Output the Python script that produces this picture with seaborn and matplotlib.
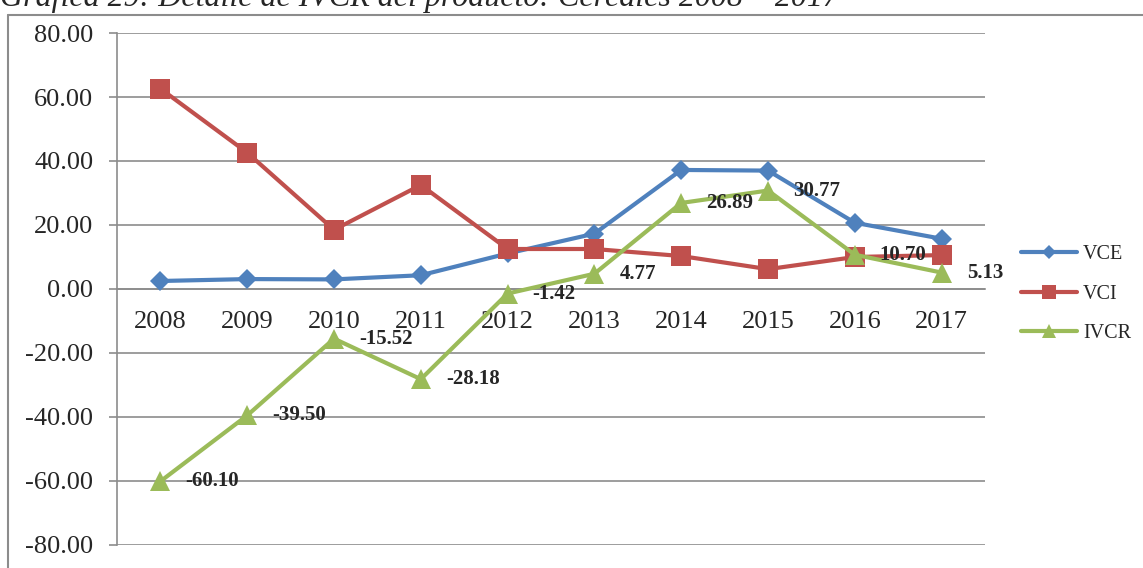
import matplotlib
matplotlib.use("Agg")
import matplotlib.pyplot as plt
from matplotlib.lines import Line2D
import pandas as pd
import seaborn as sns

# values
years = ["2008", "2009", "2010", "2011", "2012", "2013", "2014", "2015", "2016", "2017"]
vce = [2.5, 3.1, 3.0, 4.3, 11.1, 17.3, 37.2, 37.0, 20.7, 15.7]
vci = [62.6, 42.6, 18.5, 32.5, 12.5, 12.5, 10.3, 6.2, 10.0, 10.6]
ivcr = [-60.10, -39.50, -15.52, -28.18, -1.42, 4.77, 26.89, 30.77, 10.70, 5.13]
series = ["VCE", "VCI", "IVCR"]
y_ticks = [-80, -60, -40, -20, 0, 20, 40, 60, 80]
title = "Gráfica 29: Detalle de IVCR del producto: Cereales 2008 – 2017"

df = pd.DataFrame({
    "year": years * 3,
    "value": vce + vci + ivcr,
    "serie": [s for s in series for _ in years],
})

sns.set_theme(style="white")
plt.rcParams["font.family"] = ["Liberation Serif", "DejaVu Serif"]

palette = {"VCE": "#4F81BD", "VCI": "#C0504D", "IVCR": "#9BBB59"}
markers = {"VCE": "D", "VCI": "s", "IVCR": "^"}
sizes = {"VCE": 10, "VCI": 14, "IVCR": 14}

fig = plt.figure(figsize=(11.43, 5.68), dpi=100)
ax = fig.add_axes([0.1024, 0.0405, 0.7594, 0.9014])

grey = "#8C8C8C"
for s in series:
    sub = df[df["serie"] == s]
    sns.lineplot(data=sub, x="year", y="value", color=palette[s], marker=markers[s],
                 markersize=sizes[s], markeredgewidth=0, linewidth=3.0, label=s,
                 ax=ax, sort=False, zorder=3)

# data labels for IVCR
for i, v in enumerate(ivcr):
    ax.annotate(f"{v:.2f}", (i, v), xytext=(18, 0), textcoords="offset points",
                ha="left", va="center", fontsize=15, fontweight="bold", zorder=4)

ax.set_xlim(-0.5, 9.5)
ax.set_ylim(-80, 80)
ax.set_yticks(y_ticks, [f"{t:.2f}" for t in y_ticks])
ax.yaxis.grid(True, color=grey, linewidth=1.2)
ax.set_axisbelow(True)
ax.set_xlabel("")
ax.set_ylabel("")

ax.spines["top"].set_visible(False)
ax.spines["right"].set_visible(False)
ax.spines["left"].set_color(grey)
ax.spines["left"].set_linewidth(1.2)
ax.spines["bottom"].set_position(("data", 0))
ax.spines["bottom"].set_color(grey)
ax.spines["bottom"].set_linewidth(1.2)

ax.set_xticks(range(len(years)), years)
ax.set_xticks([i - 0.5 for i in range(len(years) + 1)], minor=True)
ax.tick_params(axis="x", which="major", length=0, pad=16, labelsize=19)
ax.tick_params(axis="x", which="minor", length=6, color=grey, width=1.2, direction="out")
ax.tick_params(axis="y", length=6, color=grey, width=1.2, direction="out", pad=11,
               labelsize=19, left=True)

handles = [Line2D([0], [0], color=palette[s], marker=markers[s], linewidth=3.0,
                  markersize=sizes[s] * 0.7, markeredgewidth=0) for s in series]
ax.legend(handles, series, loc="center left", bbox_to_anchor=(1.02, 0.49),
          frameon=False, fontsize=14.5, handlelength=2.8, labelspacing=1.0,
          handletextpad=0.3)

# outer chart frame and caption (clipped at the top, as in the source)
fig.add_artist(Line2D([8 / 1143, 1.0], [1 - 15 / 568, 1 - 15 / 568],
                      transform=fig.transFigure, color=grey, linewidth=1.5))
fig.add_artist(Line2D([8 / 1143, 8 / 1143], [0, 1 - 15 / 568],
                      transform=fig.transFigure, color=grey, linewidth=1.5))
fig.text(0.0, 1 - 6 / 568, title, fontsize=23, fontstyle="italic",
         ha="left", va="baseline")

fig.savefig("out.png", dpi=100)
